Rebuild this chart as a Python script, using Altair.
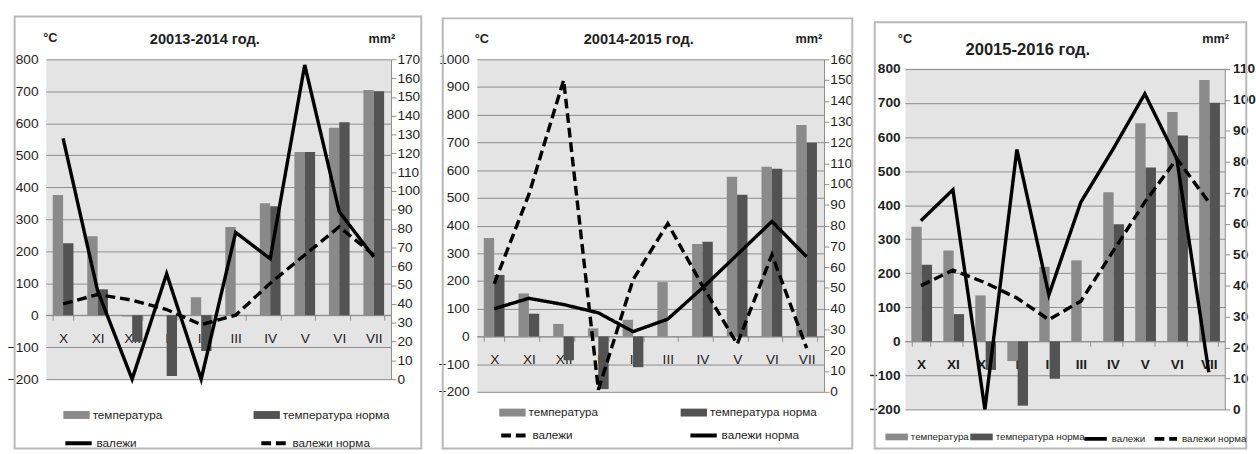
import altair as alt
import pandas as pd

months = ["X", "XI", "XII", "I", "II", "III", "IV", "V", "VI", "VII"]
bar_series = ["температура", "температура норма"]
line_series = ["валежи", "валежи норма"]
titles = ["20013-2014 год.", "20014-2015 год.", "20015-2016 год."]

# 2013-2014
temp_1 = [376, 247, -4, -3, 56, 276, 350, 510, 586, 704]
norm_1 = [225, 81, -83, -190, -112, 0, 341, 510, 603, 700]
prec_1 = [128, 47, 0, 56, 0, 78, 64, 167, 89, 65]
precn_1 = [40, 45, 42, 37, 29, 34, 51, 66, 81, 66]

# 2014-2015
temp_2 = [355, 155, 45, 29, 60, 196, 334, 576, 612, 763]
norm_2 = [222, 82, -86, -190, -111, 0, 342, 511, 605, 699]
prec_2 = [52, 95, 150, 1, 54, 81, 51, 23, 66, 21]
precn_2 = [40, 45, 42, 38, 29, 35, 50, 66, 82, 65]

# 2015-2016
temp_3 = [337, 267, 135, -58, 219, 238, 438, 641, 674, 768]
norm_3 = [225, 80, -84, -189, -110, 0, 344, 511, 605, 701]
prec_3 = [61, 71, 0, 84, 37, 67, 84, 102, 81, 12]
precn_3 = [40, 45, 41, 36, 29, 35, 51, 67, 81, 67]

FONT = "Liberation Sans"
TXT = "#1e1e1e"
GRID = "#8c8c8c"
AXIS = "#8c8c8c"
BAR_FILL = ["#8a8a8a", "#535353"]
SOLID = [1, 0]
DASHED = [10, 5]
RECT_SYM = "M-1,-0.3H1V0.3H-1Z"

one = pd.DataFrame({"k": [0]})


def bar_legend(x, y, pad, fs, sym):
    return alt.Legend(title=None, orient="none", legendX=x, legendY=y, direction="horizontal",
                      columns=2, columnPadding=pad, rowPadding=0, padding=0,
                      symbolType=RECT_SYM, symbolSize=sym * sym, symbolStrokeWidth=0,
                      labelFont=FONT, labelFontSize=fs, labelColor=TXT, labelOffset=3, labelLimit=300)


def line_legend(x, y, pad, fs, sym):
    return alt.Legend(title=None, orient="none", legendX=x, legendY=y, direction="horizontal",
                      columns=2, columnPadding=pad, rowPadding=0, padding=0,
                      symbolType="stroke", symbolSize=sym * sym, symbolStrokeWidth=4,
                      symbolStrokeColor="black",
                      labelFont=FONT, labelFontSize=fs, labelColor=TXT, labelOffset=3, labelLimit=300)


def txt(s, x, y, size):
    return alt.Chart(one).mark_text(text=s, font=FONT, fontSize=size, fontWeight="bold", color=TXT,
                                    align="center", baseline="middle").encode(
        x=alt.value(x), y=alt.value(y))


def panel(temp, norm, prec, precn, L):
    w, h = L["w"], L["h"]
    ttop, ptop = L["ttop"], L["ptop"]
    y0 = h * ttop / (ttop + 200)
    n = len(months)
    bars_df = pd.DataFrame({"month": months * 2,
                            "bser": [bar_series[0]] * n + [bar_series[1]] * n,
                            "value": temp + norm})
    lines_df = pd.DataFrame({"month": months * 2,
                             "lser": [line_series[0]] * n + [line_series[1]] * n,
                             "value": prec + precn})

    x_enc = alt.X("month:N", sort=months,
                  scale=alt.Scale(paddingInner=0.4, paddingOuter=0.2),
                  axis=alt.Axis(title=None, orient="bottom", offset=-(h - y0), labelAngle=0,
                                labelFont=FONT, labelFontSize=14, labelFontWeight=L["lw"],
                                labelColor=TXT, labelPadding=12, domainColor=AXIS,
                                tickColor=AXIS, tickSize=5, tickBand="extent", grid=False))

    frame = alt.Chart(one).mark_rect(filled=False, stroke="#b8b8b8", strokeWidth=2).encode(
        x=alt.value(L["fx"][0]), x2=alt.value(L["fx"][1]),
        y=alt.value(L["fy"]), y2=alt.value(L["fb"]))

    bars = alt.Chart(bars_df).mark_bar().encode(
        x=x_enc,
        xOffset=alt.XOffset("bser:N", sort=bar_series,
                            scale=alt.Scale(paddingInner=0, paddingOuter=0)),
        y=alt.Y("value:Q", scale=alt.Scale(domain=[-200, ttop], nice=False, zero=False),
                axis=alt.Axis(title=None, orient="left", values=L["tvals"], grid=True, format="d",
                              gridColor=GRID, gridWidth=1, domain=False, ticks=False, tickSize=0,
                              labelFont=FONT, labelFontSize=14, labelFontWeight=L["lw"],
                              labelColor=TXT, labelPadding=L["lp"])),
        color=alt.Color("bser:N", sort=bar_series,
                        scale=alt.Scale(domain=bar_series, range=BAR_FILL),
                        legend=bar_legend(*L["bleg"])),
    )

    lines = alt.Chart(lines_df).mark_line(color="black", strokeWidth=3.5, strokeJoin="miter",
                                          strokeCap="butt").encode(
        x=x_enc,
        y=alt.Y("value:Q", scale=alt.Scale(domain=[0, ptop], nice=False, zero=False),
                axis=alt.Axis(title=None, orient="right", values=L["pvals"], grid=False, format="d",
                              domainColor=AXIS, tickColor=AXIS, tickSize=5,
                              labelFont=FONT, labelFontSize=14, labelFontWeight=L["lw"],
                              labelColor=TXT, labelPadding=L["rp"])),
        strokeDash=alt.StrokeDash("lser:N", sort=line_series,
                                  scale=alt.Scale(domain=line_series, range=L["dash"]),
                                  legend=line_legend(*L["lleg"])),
    )

    layers = [frame, bars, lines]
    if L["band"] > 0:
        layers.append(alt.Chart(one).mark_rect(fill="white").encode(
            x=alt.value(-1), x2=alt.value(w + 2), y=alt.value(0), y2=alt.value(L["band"])))
    for (s, tx, ty, fs) in L["texts"]:
        layers.append(txt(s, tx, ty, fs))

    return alt.layer(*layers).resolve_scale(y="independent").properties(width=w, height=h)


L1 = dict(w=354, h=328, ttop=800, ptop=170,
          tvals=list(range(-200, 801, 100)), pvals=list(range(0, 171, 10)),
          lw="normal", lp=8, rp=1, dash=[SOLID, DASHED],
          fx=(-32, 385), fy=-44, fb=399, band=0,
          bleg=(18, 351, 93, 12, 27), lleg=(18, 378, 119, 12, 27),
          texts=[("°C", 4.5, -22, 13), (titles[0], 163, -21, 15), ("mm²", 344.5, -21, 13)])

L2 = dict(w=356, h=341, ttop=1000, ptop=160,
          tvals=list(range(-200, 1001, 100)), pvals=list(range(0, 161, 10)),
          lw="normal", lp=8, rp=1, dash=[DASHED, SOLID],
          fx=(-35, 385), fy=-42, fb=399, band=0,
          bleg=(23, 348.5, 84, 12, 27), lleg=(23, 370, 112, 12, 27),
          texts=[("°C", 5, -21, 13), (titles[1], 166, -21, 15), ("mm²", 340.5, -21, 13)])

L3 = dict(w=328, h=359, ttop=828.65, ptop=113.15,
          tvals=list(range(-200, 801, 100)), pvals=list(range(0, 111, 10)),
          lw="bold", lp=5, rp=3, dash=[SOLID, DASHED],
          fx=(-31, 350), fy=-38, fb=399, band=9.5,
          bleg=(-20, 375.5, 1, 10, 23), lleg=(182, 375.5, 1, 10, 23),
          texts=[("°C", 0, -21, 13), (titles[2], 126, -9, 17), ("mm²", 318.5, -21, 13)])

p1 = panel(temp_1, norm_1, prec_1, precn_1, L1)
p2 = panel(temp_2, norm_2, prec_2, precn_2, L2)
p3 = panel(temp_3, norm_3, prec_3, precn_3, L3)

chart = alt.hconcat(p1, p2, p3, spacing=14).resolve_scale(
    x="independent", y="independent", color="independent", strokeDash="independent"
).properties(
    padding={"left": 6, "top": 9, "right": 0, "bottom": 0}, background="white"
).configure_view(fill="#e4e4e4", stroke="transparent")

chart.save("out.html", embed_options={"renderer": "svg", "actions": False})
